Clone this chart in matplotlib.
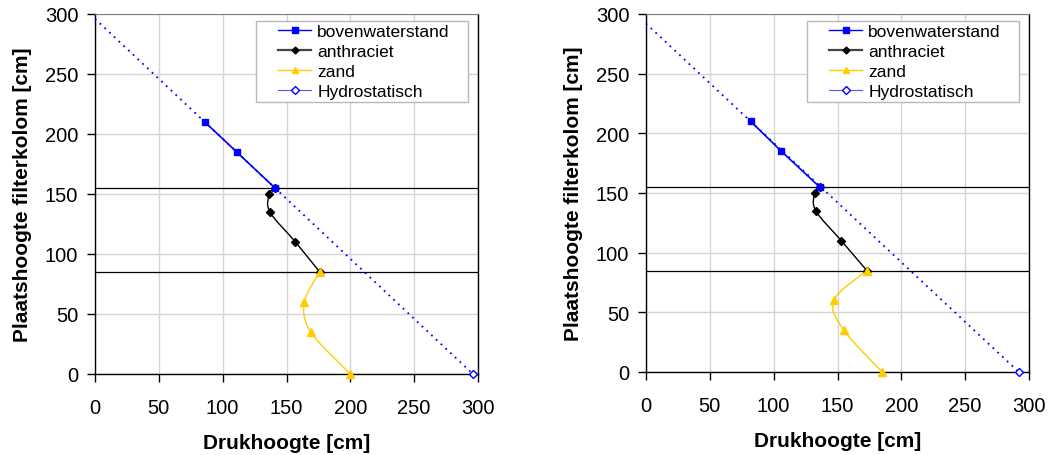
import matplotlib
matplotlib.use("Agg")
import matplotlib.pyplot as plt
from matplotlib.path import Path
from matplotlib.patches import PathPatch, Rectangle
import numpy as np

plt.rcParams['font.family'] = ['Liberation Sans', 'DejaVu Sans']

# links: bovenwaterstand, anthraciet, zand, hydrostatisch
boven_x_l = [86, 111, 141]
boven_y_l = [210, 185, 155]
anthr_x_l = [141, 136.5, 137, 157, 176]
anthr_y_l = [155, 150, 135, 110, 85]
zand_x_l = [176, 164, 169, 200]
zand_y_l = [85, 60, 35, 0]
hydro_x_l = [0, 296]
hydro_y_l = [296, 0]

# rechts
boven_x_r = [82, 106, 136]
boven_y_r = [210, 185, 155]
anthr_x_r = [136, 132, 133, 153, 173]
anthr_y_r = [155, 150, 135, 110, 85]
zand_x_r = [173, 147, 155, 185]
zand_y_r = [85, 60, 35, 0]
hydro_x_r = [0, 292]
hydro_y_r = [292, 0]

laag_grenzen = [155, 85]
ticks = [0, 50, 100, 150, 200, 250, 300]
labels = ['bovenwaterstand', 'anthraciet', 'zand', 'Hydrostatisch']
geel = '#FFCC00'


def smooth(ax, xs, ys, color, lw=1.0):
    # vloeiende lijn (zoals excel) met bezier stukken
    p = np.column_stack([xs, ys]).astype(float)
    n = len(p)
    verts = [p[0]]
    codes = [Path.MOVETO]
    for i in range(n - 1):
        p0 = p[i - 1] if i > 0 else p[i]
        p3 = p[i + 2] if i + 2 < n else p[i + 1]
        c1 = p[i] + (p[i + 1] - p0) / 6.0
        c2 = p[i + 1] - (p3 - p[i]) / 6.0
        verts += [c1, c2, p[i + 1]]
        codes += [Path.CURVE4] * 3
    ax.add_patch(PathPatch(Path(verts, codes), facecolor='none',
                           edgecolor=color, lw=lw, zorder=3))


def panel(ax, bx, by, ax_, ay_, zx, zy, hx, hy):
    ax.set_xlim(0, 300)
    ax.set_ylim(0, 300)
    ax.set_xticks(ticks)
    ax.set_yticks(ticks)
    ax.grid(True, color='#d4d4d4', lw=1.0, zorder=0)
    ax.set_axisbelow(True)
    for y in laag_grenzen:
        ax.axhline(y, color='black', lw=0.9, zorder=2)

    ax.plot(hx, hy, color='blue', ls=(0, (1, 2.6)), lw=1.3, marker='D',
            ms=4, mfc='white', mec='blue', mew=1.0, markevery=[1],
            zorder=3, clip_on=False)
    smooth(ax, ax_, ay_, 'black')
    ax.plot(ax_, ay_, ls='none', marker='D', ms=4, color='black', zorder=4)
    smooth(ax, zx, zy, geel)
    ax.plot(zx, zy, ls='none', marker='^', ms=6, color=geel, zorder=4,
            clip_on=False)
    ax.plot(bx, by, color='blue', lw=1.2, marker='s', ms=5, zorder=5)

    # legenda met eigen kader
    ax.add_patch(Rectangle((0.42, 0.755), 0.555, 0.226,
                           transform=ax.transAxes, facecolor='white',
                           edgecolor='#b8b8b8', lw=1.0, zorder=9))
    h1, = ax.plot([], [], color='blue', lw=1.0, marker='s', ms=4.5)
    h2, = ax.plot([], [], color='#444444', lw=1.6, marker='D', ms=3.5,
                  mfc='black', mec='black')
    h3, = ax.plot([], [], color=geel, lw=1.0, marker='^', ms=5)
    h4, = ax.plot([], [], color='#5555ff', lw=0.8, marker='D', ms=4,
                  mfc='white', mec='blue')
    leg = ax.legend([h1, h2, h3, h4], labels,
                    loc='upper left', bbox_to_anchor=(0.478, 0.972),
                    fontsize=12.5, frameon=False, borderpad=0,
                    labelspacing=0.27, handlelength=1.9, handletextpad=0.35,
                    borderaxespad=0)
    leg.set_zorder(10)

    for s in ['left', 'bottom', 'right']:
        ax.spines[s].set_color('black')
        ax.spines[s].set_linewidth(1.0)
    ax.spines['top'].set_color('#808080')
    ax.tick_params(direction='out', length=6, width=1, labelsize=14.5,
                   colors='black')
    ax.tick_params(axis='x', pad=11)
    ax.tick_params(axis='y', pad=6)
    ax.set_xlabel('Drukhoogte [cm]', fontsize=15, fontweight='bold',
                  labelpad=12)
    ax.set_ylabel('Plaatshoogte filterkolom [cm]', fontsize=15,
                  fontweight='bold', labelpad=9)


fig = plt.figure(figsize=(10.55, 4.56), dpi=100)
ax1 = fig.add_axes([95 / 1055, 81 / 456, 383 / 1055, 360 / 456])
ax2 = fig.add_axes([646 / 1055, 83 / 456, 383 / 1055, 358 / 456])

panel(ax1, boven_x_l, boven_y_l, anthr_x_l, anthr_y_l, zand_x_l, zand_y_l,
      hydro_x_l, hydro_y_l)
panel(ax2, boven_x_r, boven_y_r, anthr_x_r, anthr_y_r, zand_x_r, zand_y_r,
      hydro_x_r, hydro_y_r)

fig.savefig('out.png', dpi=100)
